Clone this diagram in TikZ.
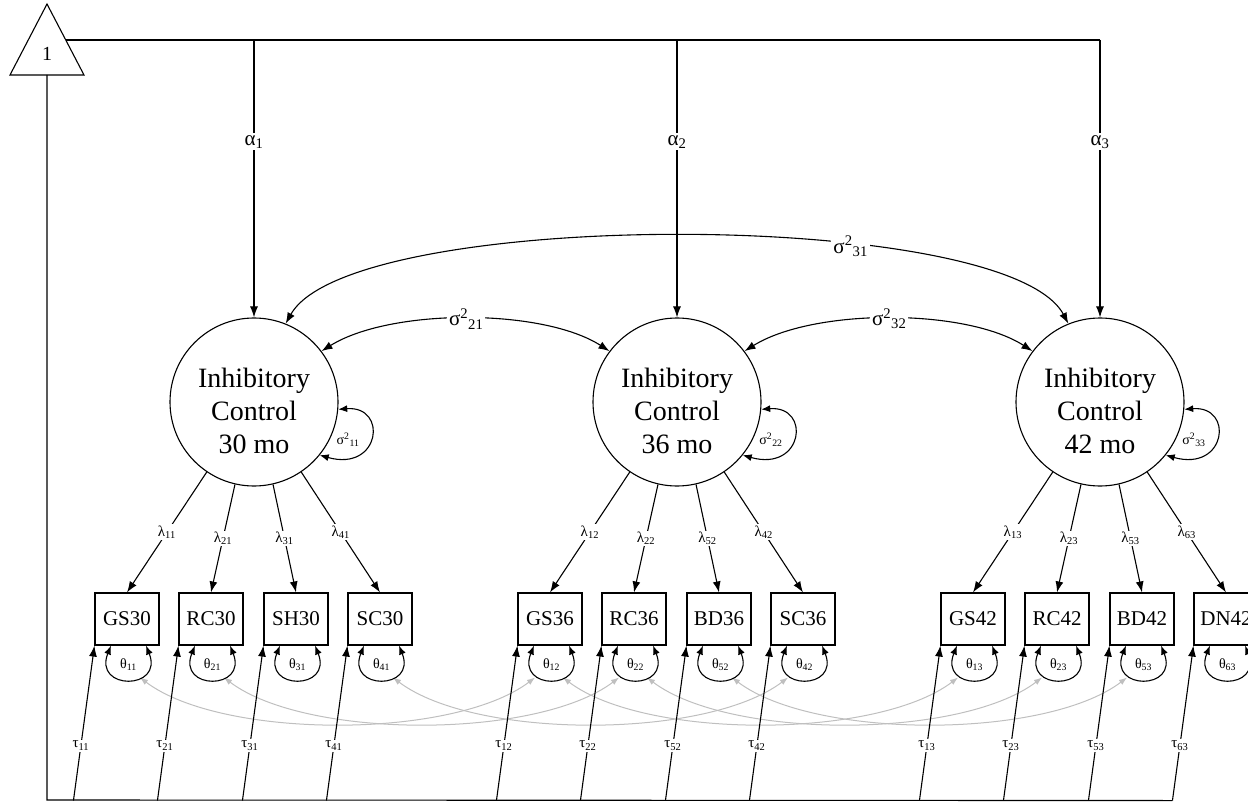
\documentclass[tikz,border=0pt]{standalone}
\usepackage{fontspec}
\setmainfont{Liberation Serif}
\usetikzlibrary{arrows.meta,calc}
\newcommand{\gsub}[2]{#1\textsubscript{#2}}
\newcommand{\sq}[1]{σ\textsuperscript{2}\textsubscript{#1}}
\begin{document}
\begin{tikzpicture}[x=1pt,y=1pt,
  every node/.style={font=\fontsize{20}{24}\selectfont},
  ln/.style={line width=1.1pt},
  arr/.style={line width=1.1pt,-{Latex[length=11pt,width=8pt]}},
  darr/.style={line width=1.1pt,{Latex[length=11pt,width=8pt]}-{Latex[length=11pt,width=8pt]}},
  sarr/.style={line width=1.1pt,{Latex[length=9pt,width=7pt]}-{Latex[length=9pt,width=7pt]}},
  garr/.style={line width=1pt,draw=black!25,{Latex[length=8pt,width=6pt]}-{Latex[length=8pt,width=6pt]}},
  latent/.style={circle,draw,line width=1.1pt,minimum size=168pt,inner sep=0pt},
  ltext/.style={align=center,inner sep=0pt,font=\fontsize{28}{33}\selectfont},
  obs/.style={draw,line width=1.1pt,minimum width=64pt,minimum height=52pt,inner sep=0pt,font=\fontsize{21}{24}\selectfont},
  lab/.style={fill=white,inner sep=1.5pt,font=\fontsize{15}{18}\selectfont},
  biglab/.style={fill=white,inner sep=2pt,font=\fontsize{21}{24}\selectfont},
  small/.style={inner sep=0pt,font=\fontsize{14}{16}\selectfont}]
\useasboundingbox (0,0) rectangle (1248,-802);
\clip (0,0) rectangle (1248,-802);

% mean triangle
\coordinate (apex) at (47,-4);
\coordinate (tl) at (10,-75);
\coordinate (trr) at (84,-75);
\draw[ln] (apex) -- (tl) -- (trr) -- cycle;
\node (one) at (47,-54) {1};
\coordinate (tri) at (65.8,-40);
\coordinate (tb) at (47,-75);

% latent variables
\foreach \g/\cx/\mo in {1/254/30,2/677/36,3/1100/42}{
  \node[latent] (c\g) at (\cx,-402) {};
  \node[ltext] (t\g) at (\cx,-411) {Inhibitory\\Control\\\mo{} mo};
  \coordinate (a\g) at (\cx,-40);
}
\draw[ln] (tri) -- (a3);
\foreach \g in {1,2,3}{
  \draw[arr] (a\g) -- node[biglab,pos=0.367]{\gsub{α}{\g}} (c\g);
  \draw[sarr] (c\g.-5) .. controls +(50,4) and +(61,-17) .. (c\g.-39);
  \node[small] (v\g) at ($(c\g)+(94,-38)$) {\sq{\g\g}};
}

% observed indicators
\foreach \g/\k/\dx/\ang/\nm/\ix in {
  1/1/-127/-124/GS30/11, 1/2/-43/-103/RC30/21, 1/3/42/-77/SH30/31, 1/4/126/-56/SC30/41,
  2/1/-127/-124/GS36/12, 2/2/-43/-103/RC36/22, 2/3/42/-77/BD36/52, 2/4/126/-56/SC36/42,
  3/1/-127/-124/GS42/13, 3/2/-43/-103/RC42/23, 3/3/42/-77/BD42/53, 3/4/126/-56/DN42/63}{
  \node[obs] (b\g\k) at ($(c\g)+(\dx,-217)$) {\nm};
  \coordinate (s\g\k) at ($(b\g\k.south west)+(-21,-155)$);
}

% residual covariances (grey)
\foreach \p/\q in {11/21,12/22,14/24,21/31,22/32,23/33}{
  \draw[garr] ([xshift=13pt,yshift=-32pt]b\p.south) .. controls +(82,-62) and +(-82,-62) .. ([xshift=-15pt,yshift=-32pt]b\q.south);
}

\foreach \g/\k/\ang/\ix in {
  1/1/-124/11, 1/2/-103/21, 1/3/-77/31, 1/4/-56/41,
  2/1/-124/12, 2/2/-103/22, 2/3/-77/52, 2/4/-56/42,
  3/1/-124/13, 3/2/-103/23, 3/3/-77/53, 3/4/-56/63}{
  \draw[arr] (c\g.\ang) -- node[lab]{\gsub{λ}{\ix}} (b\g\k.north);
  \draw[sarr] ([xshift=-16pt]b\g\k.south) .. controls +(-18,-45) and +(18,-45) .. ([xshift=19pt]b\g\k.south);
  \node[small] (th\g\k) at ([xshift=1.5pt,yshift=-19pt]b\g\k.south) {\gsub{θ}{\ix}};
  \draw[arr] (s\g\k) -- node[lab,pos=0.355]{\gsub{τ}{\ix}} (b\g\k.south west);
}

% bottom constant line
\coordinate (bl) at (47,-800);
\draw[ln] (tb) -- (bl) -- (s34);

% latent covariances
\draw[darr] (c1.37) .. controls +(69,43) and +(-67,43) .. node[biglab]{\sq{21}} (c2.143);
\draw[darr] (c2.37) .. controls +(69,43) and +(-67,43) .. node[biglab]{\sq{32}} (c3.143);
\draw[darr] (c1.68) .. controls +(65,116) and +(-62,116) .. node[biglab,pos=0.665]{\sq{31}} (c3.112);
\end{tikzpicture}
\end{document}
